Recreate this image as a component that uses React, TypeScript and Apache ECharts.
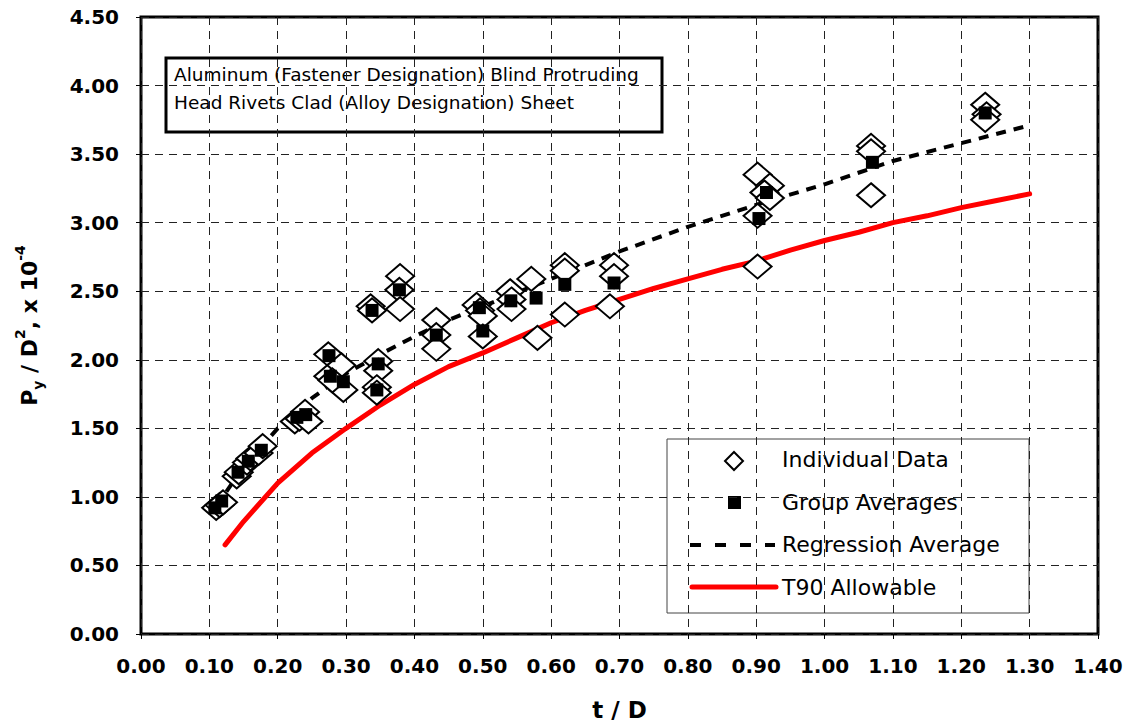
import React, { useEffect, useRef } from "react";
import * as echarts from "echarts";

// Individual data (t/D, Py/D^2 x 1e-4)
const individualX = [
  0.11, 0.115, 0.12, 0.14, 0.143, 0.155, 0.16, 0.172, 0.178,
  0.225, 0.232, 0.24, 0.245, 0.274, 0.274, 0.293, 0.296, 0.28,
  0.336, 0.338, 0.347, 0.347, 0.345, 0.345, 0.379, 0.378, 0.379,
  0.432, 0.432, 0.432, 0.491, 0.496, 0.5, 0.5, 0.54, 0.542, 0.542,
  0.571, 0.58, 0.62, 0.62, 0.62, 0.692, 0.692, 0.686,
  0.902, 0.92, 0.912, 0.92, 0.902, 0.902, 1.068, 1.068, 1.068,
  1.235, 1.237, 1.235,
];
const individualY = [
  0.92, 0.94, 0.96, 1.15, 1.18, 1.25, 1.28, 1.32, 1.37,
  1.55, 1.57, 1.62, 1.55, 2.04, 1.88, 1.96, 1.78, 1.85,
  2.39, 2.36, 1.99, 1.92, 1.80, 1.76, 2.61, 2.51, 2.37,
  2.29, 2.18, 2.08, 2.40, 2.36, 2.32, 2.17, 2.50, 2.44, 2.37,
  2.59, 2.16, 2.69, 2.65, 2.33, 2.69, 2.61, 2.39,
  3.35, 3.27, 3.22, 3.18, 3.05, 2.68, 3.56, 3.52, 3.20,
  3.86, 3.79, 3.75,
];

// Group averages
const groupX = [
  0.108, 0.118, 0.142, 0.157, 0.176, 0.228, 0.241, 0.275, 0.277, 0.296,
  0.338, 0.347, 0.345, 0.378, 0.432, 0.495, 0.5, 0.541, 0.578, 0.62,
  0.692, 0.904, 0.915, 1.07, 1.235,
];
const groupY = [
  0.92, 0.97, 1.18, 1.26, 1.34, 1.58, 1.60, 2.03, 1.88, 1.84,
  2.36, 1.97, 1.78, 2.51, 2.18, 2.38, 2.21, 2.43, 2.45, 2.55,
  2.56, 3.03, 3.22, 3.44, 3.80,
];

// Regression average curve
const regressionX = [0.11, 0.15, 0.2, 0.25, 0.3, 0.35, 0.4, 0.45, 0.5, 0.6, 0.7, 0.8, 0.9, 1.0, 1.1, 1.2, 1.3];
const regressionY = [0.93, 1.22, 1.5, 1.72, 1.9, 2.04, 2.17, 2.29, 2.39, 2.59, 2.79, 2.97, 3.13, 3.28, 3.45, 3.58, 3.71];

// T90 allowable curve
const t90X = [0.123, 0.15, 0.2, 0.25, 0.3, 0.35, 0.4, 0.45, 0.5, 0.55, 0.6, 0.65, 0.7, 0.75, 0.8, 0.85, 0.9, 0.95, 1.0, 1.05, 1.1, 1.15, 1.2, 1.25, 1.3];
const t90Y = [0.65, 0.82, 1.1, 1.32, 1.5, 1.67, 1.82, 1.95, 2.05, 2.16, 2.27, 2.36, 2.44, 2.52, 2.59, 2.66, 2.72, 2.8, 2.87, 2.93, 3.0, 3.05, 3.11, 3.16, 3.21];

const legendLabels = ["Individual Data", "Group Averages", "Regression Average", "T90 Allowable"];
const noteLines = [
  "Aluminum (Fastener Designation) Blind Protruding",
  "Head Rivets Clad (Alloy Designation) Sheet",
];

const FONT = "'DejaVu Sans', 'Liberation Sans', Arial, sans-serif";

export default function App() {
  const ref = useRef<HTMLDivElement>(null);

  useEffect(() => {
    if (!ref.current) return;
    const chart = echarts.init(ref.current, null, { renderer: "svg" });
    const zip = (xs: number[], ys: number[]) => xs.map((x, i) => [x, ys[i]]);

    const legendTextStyle = { fontFamily: FONT, fontSize: 22, fill: "#000", textVerticalAlign: "middle" };

    chart.setOption({
      animation: false,
      backgroundColor: "#fff",
      textStyle: { fontFamily: FONT },
      grid: {
        left: 141,
        right: 31,
        top: 17,
        bottom: 92,
        show: true,
        borderColor: "#000",
        borderWidth: 3,
        backgroundColor: "transparent",
      },
      xAxis: {
        type: "value",
        min: 0,
        max: 1.4,
        interval: 0.1,
        name: "t / D",
        nameLocation: "middle",
        nameGap: 64,
        nameTextStyle: { fontFamily: FONT, fontSize: 23, fontWeight: "bold", color: "#000" },
        axisLine: { show: false },
        axisTick: { show: true, length: 5, lineStyle: { color: "#000", width: 1 } },
        axisLabel: {
          margin: 22,
          fontFamily: FONT,
          fontSize: 20,
          fontWeight: "bold",
          color: "#000",
          formatter: (v: number) => v.toFixed(2),
        },
        splitLine: { show: true, lineStyle: { color: "#222", width: 1, type: [8, 6] } },
      },
      yAxis: {
        type: "value",
        min: 0,
        max: 4.5,
        interval: 0.5,
        name: "{b|P}{s|y}{b| / D}{p|2}{b|, x 10}{p|-4}",
        nameLocation: "middle",
        nameRotate: 90,
        nameGap: 96,
        nameTextStyle: {
          fontFamily: FONT,
          fontWeight: "bold",
          color: "#000",
          rich: {
            b: { fontFamily: FONT, fontSize: 22, fontWeight: "bold", color: "#000", lineHeight: 32, verticalAlign: "middle" },
            s: { fontFamily: FONT, fontSize: 14, fontWeight: "bold", color: "#000", lineHeight: 32, verticalAlign: "bottom", padding: [10, 0, 0, 0] },
            p: { fontFamily: FONT, fontSize: 14, fontWeight: "bold", color: "#000", lineHeight: 32, verticalAlign: "top", padding: [0, 0, 12, 0] },
          },
        },
        axisLine: { show: false },
        axisTick: { show: true, length: 5, lineStyle: { color: "#000", width: 1 } },
        axisLabel: {
          margin: 22,
          fontFamily: FONT,
          fontSize: 20,
          fontWeight: "bold",
          color: "#000",
          formatter: (v: number) => v.toFixed(2),
        },
        splitLine: { show: true, lineStyle: { color: "#222", width: 1, type: [8, 6] } },
      },
      series: [
        {
          name: legendLabels[3],
          type: "line",
          data: zip(t90X, t90Y),
          showSymbol: false,
          smooth: false,
          lineStyle: { color: "#ff0000", width: 5, cap: "round", join: "round" },
          z: 2,
        },
        {
          name: legendLabels[2],
          type: "line",
          data: zip(regressionX, regressionY),
          showSymbol: false,
          lineStyle: { color: "#000", width: 4, type: [10, 8] },
          z: 3,
        },
        {
          name: legendLabels[0],
          type: "scatter",
          data: zip(individualX, individualY),
          symbol: "diamond",
          symbolSize: [28, 24],
          itemStyle: { color: "#fff", borderColor: "#000", borderWidth: 2, opacity: 1 },
          z: 4,
        },
        {
          name: legendLabels[1],
          type: "scatter",
          data: zip(groupX, groupY),
          symbol: "rect",
          symbolSize: [13, 13],
          itemStyle: { color: "#000", borderWidth: 0, opacity: 1 },
          z: 5,
        },
      ],
      graphic: [
        // note box
        {
          type: "group",
          z: 100,
          children: [
            {
              type: "rect",
              shape: { x: 166, y: 58, width: 496, height: 74 },
              style: { fill: "#fff", stroke: "#000", lineWidth: 3 },
            },
            {
              type: "text",
              x: 174,
              y: 74,
              style: { text: noteLines[0], fontFamily: FONT, fontSize: 18.5, fill: "#000", textVerticalAlign: "middle" },
            },
            {
              type: "text",
              x: 174,
              y: 102,
              style: { text: noteLines[1], fontFamily: FONT, fontSize: 18.5, fill: "#000", textVerticalAlign: "middle" },
            },
          ],
        },
        // legend box
        {
          type: "group",
          z: 100,
          children: [
            {
              type: "rect",
              shape: { x: 667, y: 439, width: 362, height: 174 },
              style: { fill: "#fff", stroke: "#444", lineWidth: 1 },
            },
            {
              type: "polygon",
              shape: { points: [[734, 452], [743, 461], [734, 470], [725, 461]] },
              style: { fill: "#fff", stroke: "#000", lineWidth: 2 },
            },
            {
              type: "rect",
              shape: { x: 728, y: 496, width: 13, height: 13 },
              style: { fill: "#000" },
            },
            {
              type: "line",
              shape: { x1: 690, y1: 545, x2: 775, y2: 545 },
              style: { stroke: "#000", lineWidth: 4, lineDash: [11, 14] },
            },
            {
              type: "line",
              shape: { x1: 692, y1: 587, x2: 776, y2: 587 },
              style: { stroke: "#ff0000", lineWidth: 5, lineCap: "round" },
            },
            { type: "text", x: 782, y: 459, style: { ...legendTextStyle, text: legendLabels[0] } },
            { type: "text", x: 782, y: 502, style: { ...legendTextStyle, text: legendLabels[1] } },
            { type: "text", x: 782, y: 544, style: { ...legendTextStyle, text: legendLabels[2] } },
            { type: "text", x: 782, y: 587, style: { ...legendTextStyle, text: legendLabels[3] } },
          ],
        },
      ],
    });

    return () => chart.dispose();
  }, []);

  return (
    <div
      ref={ref}
      style={{ position: "absolute", left: 0, top: 0, width: 1129, height: 726, background: "#fff" }}
    />
  );
}
